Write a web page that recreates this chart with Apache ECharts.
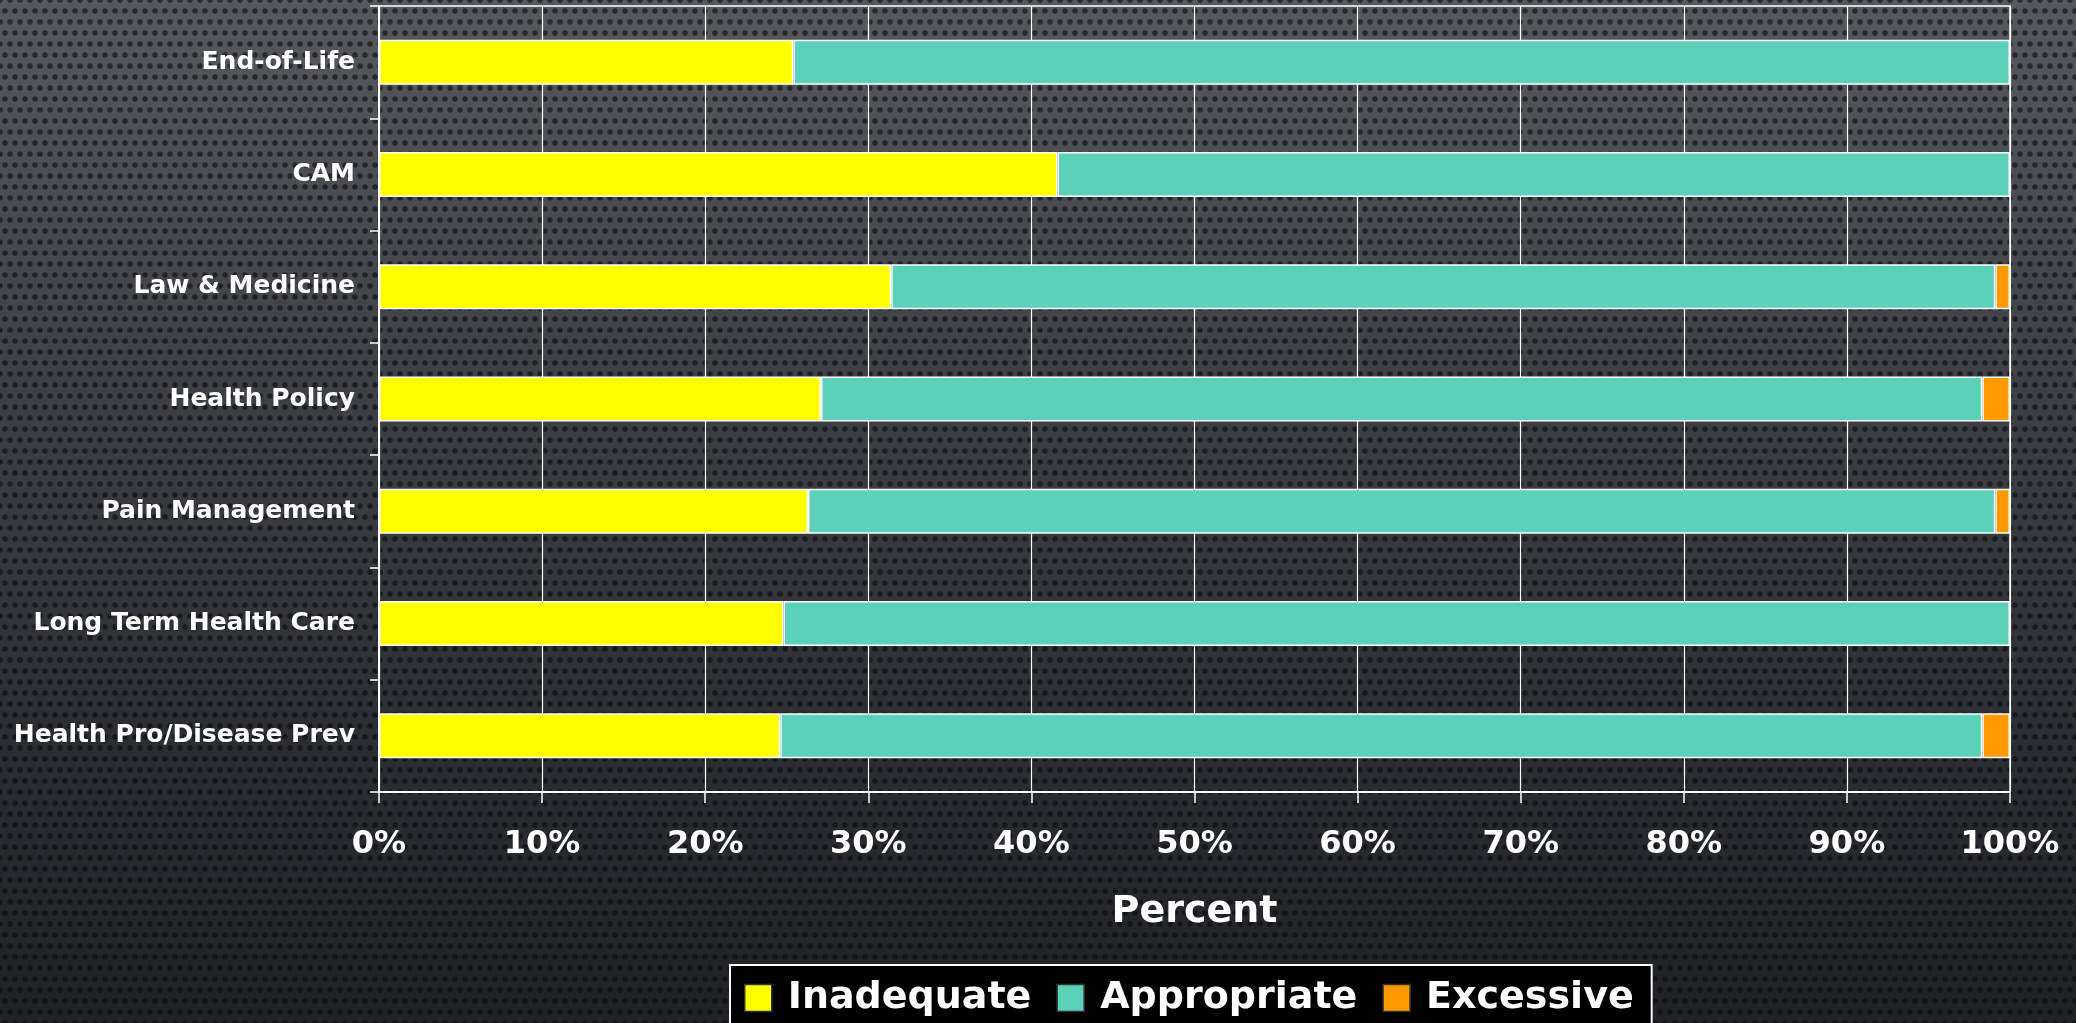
<!DOCTYPE html>
<html>
<head>
<meta charset="utf-8">
<title>Percent by topic</title>
<script src="https://cdn.jsdelivr.net/npm/echarts@6/dist/echarts.min.js"></script>
<style>
  html, body { margin: 0; padding: 0; width: 2076px; height: 1023px; overflow: hidden; }
  body {
    /* perforated dark metal backdrop */
    background-color: #2c2f33;
    background-image:
      radial-gradient(circle, rgba(8,9,11,0.62) 0, rgba(8,9,11,0.55) 2.2px, rgba(8,9,11,0) 3.4px),
      radial-gradient(circle, rgba(8,9,11,0.62) 0, rgba(8,9,11,0.55) 2.2px, rgba(8,9,11,0) 3.4px),
      linear-gradient(to bottom, #55585d 0%, #3f4247 35%, #2b2e32 70%, #202326 100%);
    background-size: 10px 22px, 10px 22px, 100% 100%;
    background-position: 0 0, 5px 11px, 0 0;
  }
  #chart { width: 2076px; height: 1023px; }
</style>
</head>
<body>
<div id="chart"></div>
<script>
// Topics, listed top to bottom
const categories = [
  'End-of-Life',
  'CAM',
  'Law & Medicine',
  'Health Policy',
  'Pain Management',
  'Long Term Health Care',
  'Health Pro/Disease Prev'
];

// Share of responses (%) per rating
const inadequate  = [25.4, 41.6, 31.4, 27.1, 26.3, 24.8, 24.6];
const appropriate = [74.6, 58.4, 67.7, 71.2, 72.8, 75.2, 73.7];
const excessive   = [0,    0,    0.9,  1.7,  0.9,  0,    1.7];

const seriesNames = ['Inadequate', 'Appropriate', 'Excessive'];
const seriesColors = ['#ffff00', '#5bd1b9', '#ff9900'];
const tickValues = [0, 10, 20, 30, 40, 50, 60, 70, 80, 90, 100];

const FONT = '"DejaVu Sans", "Liberation Sans", Arial, sans-serif';

const chart = echarts.init(document.getElementById('chart'), null, { renderer: 'canvas' });

const makeSeries = (name, data, color) => ({
  name: name,
  type: 'bar',
  stack: 'total',
  data: data,
  barWidth: 45,
  itemStyle: { color: color, borderColor: '#ffffff', borderWidth: 1.5 },
  emphasis: { disabled: true }
});

chart.setOption({
  backgroundColor: 'transparent',
  animation: false,
  textStyle: { fontFamily: FONT },
  grid: {
    left: 379, right: 66, top: 6, bottom: 231,
    show: true, borderColor: '#ffffff', borderWidth: 1.5,
    backgroundColor: 'transparent'
  },
  xAxis: {
    type: 'value',
    min: tickValues[0],
    max: tickValues[tickValues.length - 1],
    interval: 10,
    name: 'Percent',
    nameLocation: 'middle',
    nameGap: 101,
    nameTextStyle: { color: '#ffffff', fontSize: 38, fontWeight: 'bold', fontFamily: FONT },
    axisLine: { show: true, lineStyle: { color: '#ffffff', width: 2 } },
    axisTick: { show: true, length: 11, lineStyle: { color: '#ffffff', width: 1.5 } },
    axisLabel: {
      color: '#ffffff', fontSize: 32, fontWeight: 'bold', fontFamily: FONT,
      margin: 37,
      formatter: v => v + '%'
    },
    splitLine: { show: true, lineStyle: { color: '#ffffff', width: 1.2 } }
  },
  yAxis: {
    type: 'category',
    data: categories,
    inverse: true,
    axisLine: { show: true, lineStyle: { color: '#ffffff', width: 2 } },
    axisTick: { show: true, length: 9, alignWithLabel: false, lineStyle: { color: '#ffffff', width: 1.5 } },
    axisLabel: {
      color: '#ffffff', fontSize: 25, fontWeight: 'bold', fontFamily: FONT,
      margin: 24
    },
    splitLine: { show: false }
  },
  legend: {
    data: seriesNames,
    left: 730,
    top: 965,
    orient: 'horizontal',
    icon: 'rect',
    itemWidth: 27,
    itemHeight: 27,
    itemGap: 25,
    padding: [14, 18, 40, 14],
    backgroundColor: '#000000',
    borderColor: '#ffffff',
    borderWidth: 2,
    borderRadius: 0,
    selectedMode: false,
    itemStyle: { borderColor: '#333333', borderWidth: 1.5 },
    textStyle: {
      color: '#ffffff', fontSize: 38, fontWeight: 'bold', fontFamily: FONT,
      padding: [0, 0, 0, 11]
    }
  },
  series: [
    makeSeries(seriesNames[0], inadequate, seriesColors[0]),
    makeSeries(seriesNames[1], appropriate, seriesColors[1]),
    makeSeries(seriesNames[2], excessive, seriesColors[2])
  ]
});
</script>
</body>
</html>
